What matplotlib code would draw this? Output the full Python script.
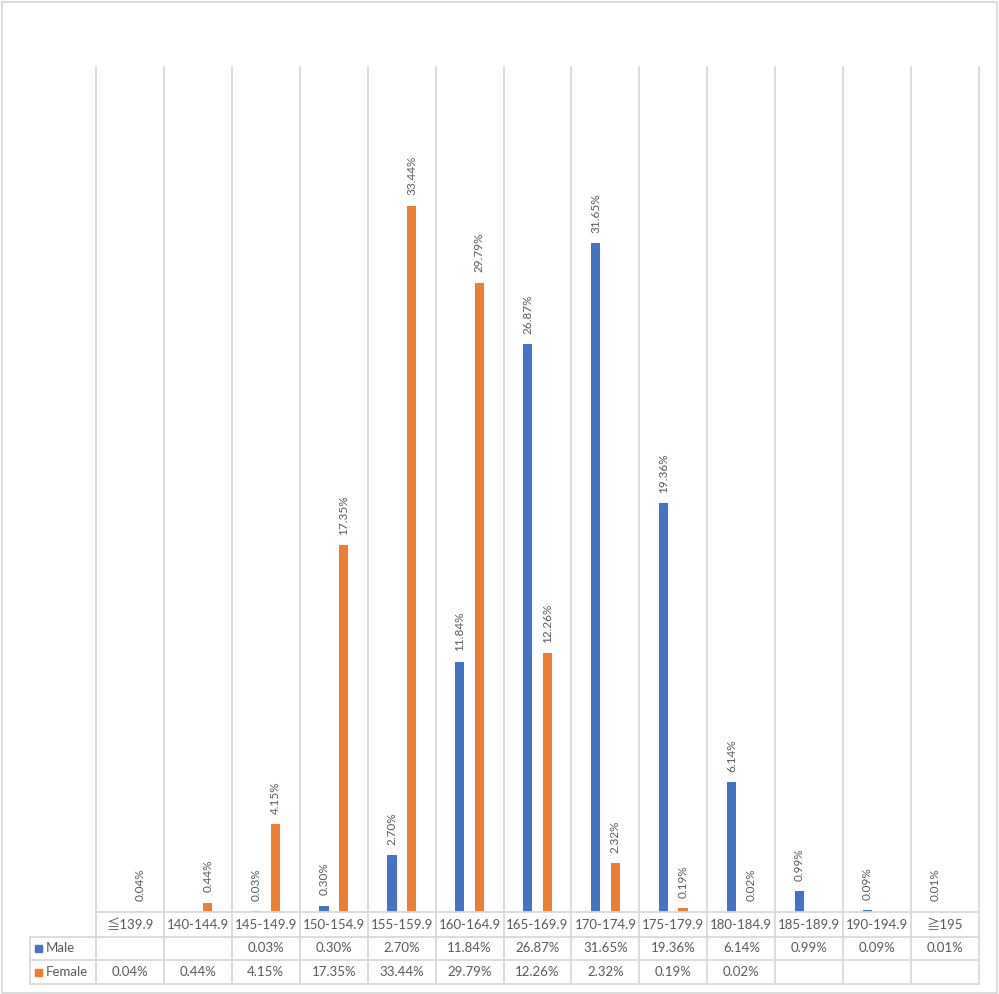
import matplotlib
matplotlib.use("Agg")
import matplotlib.pyplot as plt
import matplotlib.transforms as mtransforms
from matplotlib.patches import Rectangle
import numpy as np

categories = ["≦139.9", "140-144.9", "145-149.9", "150-154.9", "155-159.9", "160-164.9",
              "165-169.9", "170-174.9", "175-179.9", "180-184.9", "185-189.9", "190-194.9", "≧195"]
male = [None, None, 0.03, 0.30, 2.70, 11.84, 26.87, 31.65, 19.36, 6.14, 0.99, 0.09, 0.01]
female = [0.04, 0.44, 4.15, 17.35, 33.44, 29.79, 12.26, 2.32, 0.19, 0.02, None, None, None]
series = [("Male", male, "#4472C4"), ("Female", female, "#ED7D31")]

plt.rcParams['font.family'] = ['Lato', 'Noto Sans CJK JP', 'DejaVu Sans']
W, H = 999, 994
fig = plt.figure(figsize=(W / 100, H / 100), dpi=100)

def fy(py):
    return 1 - py / H

def fx(px):
    return px / W

grid_c = "#D9D9D9"
text_c = "#595959"

ax = fig.add_axes([fx(96), fy(912), fx(979) - fx(96), fy(67) - fy(912)])
n = len(categories)
x = np.arange(n)
ax.set_xlim(-0.5, n - 0.5)
ax.set_ylim(0, 40)
for s in ax.spines.values():
    s.set_visible(False)
ax.set_xticks([])
ax.set_yticks([])

bw = 0.14
offs = [-0.145, 0.145]
for (name, vals, col), off in zip(series, offs):
    for i, v in enumerate(vals):
        if v is None:
            continue
        ax.bar(x[i] + off, v, width=bw, color=col, zorder=3)
        ax.annotate(f"{v:.2f}%", (x[i] + off, v), xytext=(0, 7.5), textcoords="offset points",
                    rotation=90, ha="center", va="bottom", fontsize=8.5, color=text_c,
                    annotation_clip=False)

# gridlines / table in blended coords
tr = mtransforms.blended_transform_factory(ax.transData, fig.transFigure)
row_y = [912, 937, 960, 984]
for b in np.arange(-0.5, n, 1.0):
    fig.add_artist(plt.Line2D([b, b], [fy(67), fy(984)], transform=tr, color=grid_c, lw=1.3))
fig.add_artist(plt.Line2D([fx(30), fx(30)], [fy(937), fy(984)], transform=fig.transFigure,
                          color=grid_c, lw=1.3))
fig.add_artist(plt.Line2D([fx(96), fx(979)], [fy(912), fy(912)], transform=fig.transFigure,
                          color=grid_c, lw=1.3))
for py in row_y[1:]:
    fig.add_artist(plt.Line2D([fx(30), fx(979)], [fy(py), fy(py)], transform=fig.transFigure,
                              color=grid_c, lw=1.3))

# header row
for i, c in enumerate(categories):
    t = fig.text(0, 0, c, transform=tr, fontsize=9.5, color=text_c, ha="center", va="center")
    t.set_position((x[i], fy(925)))

# series rows
for r, (name, vals, col) in enumerate(series):
    yc = fy((row_y[r + 1] + row_y[r + 2]) / 2)
    fig.add_artist(Rectangle((fx(35), yc - 3.5 / H), 7 / W, 7 / H, transform=fig.transFigure,
                             color=col))
    fig.text(fx(46), yc, name, fontsize=9.5, color=text_c, ha="left", va="center")
    for i, v in enumerate(vals):
        if v is None:
            continue
        t = fig.text(0, 0, f"{v:.2f}%", transform=tr, fontsize=9.5, color=text_c,
                     ha="center", va="center")
        t.set_position((x[i], yc))

# outer border
fig.add_artist(Rectangle((fx(1.5), fy(992.5)), fx(995), fy(1.5) - fy(992.5), transform=fig.transFigure,
                         fill=False, edgecolor=grid_c, lw=1.3))

fig.savefig("out.png", dpi=100, facecolor="white")
